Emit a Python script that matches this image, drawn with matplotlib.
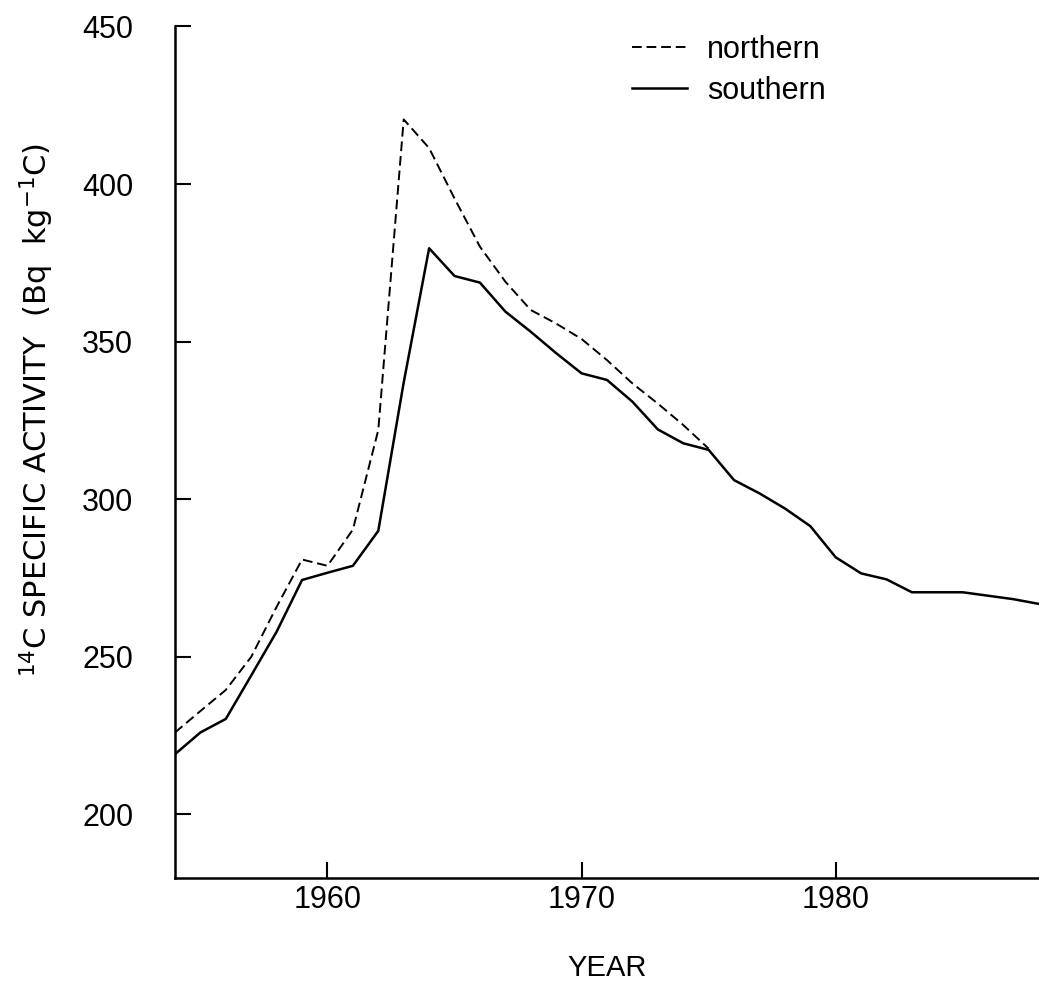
import matplotlib
matplotlib.use("Agg")
import matplotlib.pyplot as plt

# 14C specific activity
years_south = [1954, 1955, 1956, 1957, 1958, 1959, 1960, 1961, 1962, 1963,
               1964, 1965, 1966, 1967, 1968, 1969, 1970, 1971, 1972, 1973,
               1974, 1975, 1976, 1977, 1978, 1979, 1980, 1981, 1982, 1983,
               1984, 1985, 1986, 1987, 1988]
southern = [219.0, 225.9, 230.2, 244.0, 257.9, 274.3, 276.6, 278.8, 289.9, 337.0,
            379.6, 370.8, 368.7, 359.5, 353.1, 346.3, 339.9, 337.8, 330.9, 322.1,
            317.7, 315.6, 306.0, 301.8, 297.0, 291.4, 281.5, 276.4, 274.5, 270.4,
            270.4, 270.4, 269.3, 268.2, 266.7]

years_north = [1954, 1955, 1956, 1957, 1958, 1959, 1960, 1961, 1962, 1963,
               1964, 1965, 1966, 1967, 1968, 1969, 1970, 1971, 1972, 1973,
               1974, 1975]
northern = [225.9, 232.7, 239.4, 249.9, 265.8, 280.8, 278.8, 290.3, 321.9, 420.5,
            411.4, 395.4, 380.1, 369.0, 360.0, 355.7, 350.8, 344.1, 336.7, 330.3,
            323.5, 316.0]

xticks = [1960, 1970, 1980]
yticks = [200, 250, 300, 350, 400, 450]

plt.rcParams["font.family"] = ["Liberation Sans", "DejaVu Sans"]
plt.rcParams["mathtext.fontset"] = "dejavusans"

fig = plt.figure(figsize=(10.39, 9.89), dpi=100)
ax = fig.add_axes([175 / 1039, (989 - 878) / 989, 864 / 1039, (878 - 26.5) / 989])

ax.plot(years_north, northern, color="black", linewidth=1.4,
        dashes=(5, 2.5), label="northern")
ax.plot(years_south, southern, color="black", linewidth=1.8, label="southern")

ax.set_xlim(1954, 1988)
ax.set_ylim(179.7, 450)
ax.set_xticks(xticks)
ax.set_yticks(yticks)
ax.tick_params(direction="in", length=11.5, width=1.5, labelsize=22)
ax.tick_params(axis="x", pad=5)
ax.tick_params(axis="y", pad=30)

for side in ["top", "right"]:
    ax.spines[side].set_visible(False)
for side in ["left", "bottom"]:
    ax.spines[side].set_linewidth(1.8)

ax.set_xlabel("YEAR", fontsize=21, labelpad=28)
ax.set_ylabel(r"$^{14}$C SPECIFIC ACTIVITY  (Bq  kg$^{-1}$C)",
              fontsize=22, family=["DejaVu Sans"])
ax.yaxis.set_label_coords(-0.138, 0.55)

ax.legend(frameon=False, loc="upper left", bbox_to_anchor=(0.529, 0.99),
          fontsize=22, handlelength=1.8, handletextpad=0.65,
          labelspacing=0.36, borderpad=0, borderaxespad=0)

fig.savefig("out.png", dpi=100)
plt.close(fig)
